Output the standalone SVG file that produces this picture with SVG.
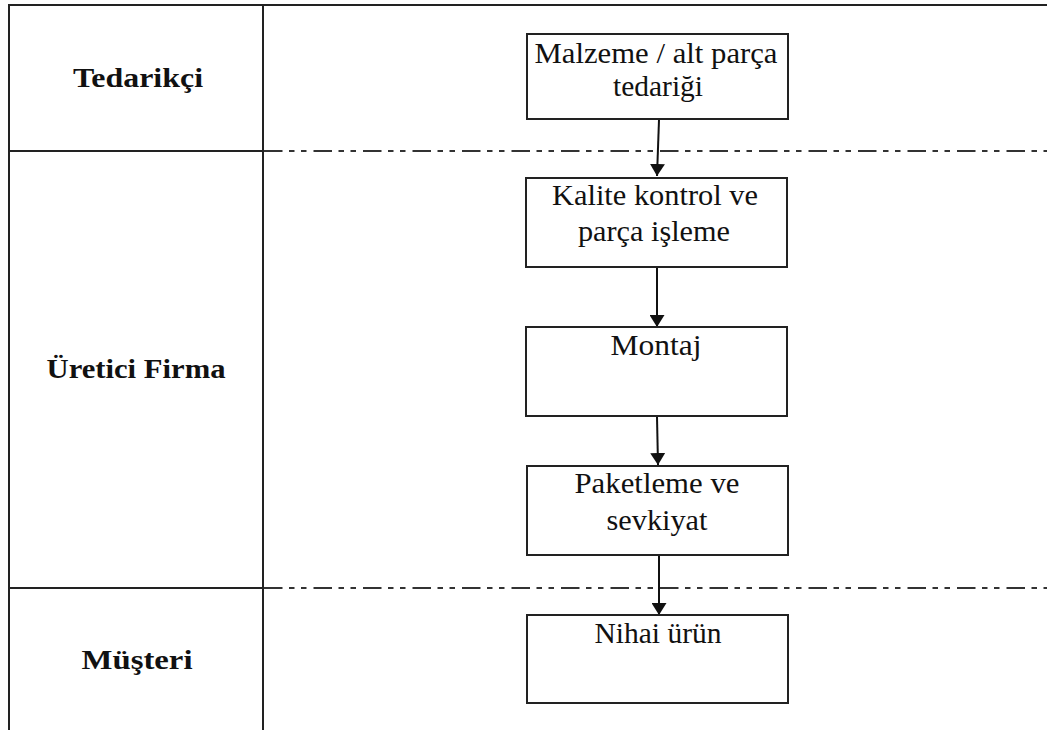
<svg xmlns="http://www.w3.org/2000/svg" width="1047" height="730" viewBox="0 0 1047 730">
<defs>
<marker id="ah" markerWidth="12" markerHeight="15" refX="12" refY="7.5" orient="auto" markerUnits="userSpaceOnUse" viewBox="0 0 12 15">
<path d="M0,0 L12,7.5 L0,15 Z" fill="#111"/>
</marker>
<style>
.grid{stroke:#222;stroke-width:2;fill:none}
.dd{stroke:#333;stroke-width:2;fill:none;stroke-dasharray:18.5 6.5 5.5 6.5 5.5 7}
.box{fill:#fff;stroke:#222;stroke-width:2}
.t{font-family:"Liberation Serif","Times New Roman",serif;font-size:29px;fill:#111;text-anchor:middle}
.lb{font-family:"Liberation Serif","Times New Roman",serif;font-size:28px;font-weight:bold;fill:#111;text-anchor:middle}
.conn line{stroke:#111;stroke-width:2;marker-end:url(#ah)}
</style>
</defs>
<rect width="1047" height="730" fill="#fff"/>
<g id="lanes">
<line class="grid" x1="9" y1="5" x2="1047" y2="5"/>
<line class="grid" x1="9" y1="4" x2="9" y2="730"/>
<line class="grid" x1="263" y1="4" x2="263" y2="730"/>
<line class="grid" x1="9" y1="151" x2="263" y2="151"/>
<line class="grid" x1="9" y1="588" x2="263" y2="588"/>
<line class="dd" x1="264" y1="151" x2="1047" y2="151"/>
<line class="dd" x1="264" y1="588" x2="1047" y2="588"/>
</g>
<g id="lane-tedarikci"><text class="lb" x="138" y="87" textLength="130" lengthAdjust="spacingAndGlyphs">Tedarikçi</text></g>
<g id="lane-uretici"><text class="lb" x="136" y="378" textLength="179" lengthAdjust="spacingAndGlyphs">Üretici Firma</text></g>
<g id="lane-musteri"><text class="lb" x="137" y="669" textLength="111" lengthAdjust="spacingAndGlyphs">Müşteri</text></g>
<g class="conn" id="connectors">
<line x1="659" y1="120" x2="657" y2="176"/>
<line x1="657" y1="268" x2="657" y2="327"/>
<line x1="657" y1="417" x2="658" y2="465"/>
<line x1="659" y1="556" x2="659" y2="615"/>
</g>
<g id="n1">
<rect class="box" x="527" y="34" width="261" height="85"/>
<text class="t" x="656" y="63" textLength="243" lengthAdjust="spacingAndGlyphs">Malzeme / alt parça</text>
<text class="t" x="658" y="96" textLength="90" lengthAdjust="spacingAndGlyphs">tedariği</text>
</g>
<g id="n2">
<rect class="box" x="526" y="178" width="261" height="89"/>
<text class="t" x="655" y="205" textLength="206" lengthAdjust="spacingAndGlyphs">Kalite kontrol ve</text>
<text class="t" x="654" y="241" textLength="152" lengthAdjust="spacingAndGlyphs">parça işleme</text>
</g>
<g id="n3">
<rect class="box" x="526" y="327" width="261" height="89"/>
<text class="t" x="656" y="355" textLength="91" lengthAdjust="spacingAndGlyphs">Montaj</text>
</g>
<g id="n4">
<rect class="box" x="527" y="466" width="261" height="89"/>
<text class="t" x="657" y="493" textLength="165" lengthAdjust="spacingAndGlyphs">Paketleme ve</text>
<text class="t" x="657" y="530" textLength="101" lengthAdjust="spacingAndGlyphs">sevkiyat</text>
</g>
<g id="n5">
<rect class="box" x="527" y="615" width="261" height="88"/>
<text class="t" x="658" y="643" textLength="127" lengthAdjust="spacingAndGlyphs">Nihai ürün</text>
</g>
</svg>
